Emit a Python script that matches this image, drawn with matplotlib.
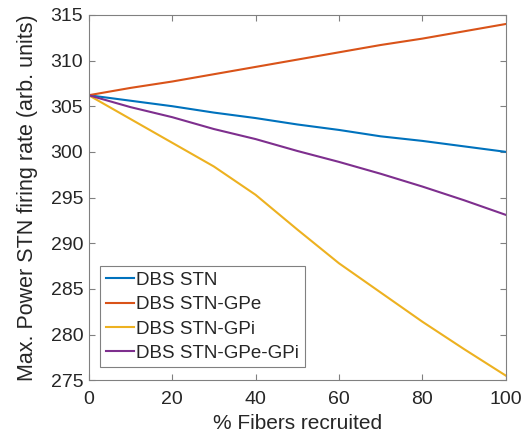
import matplotlib.pyplot as plt
import numpy as np

plt.rcParams['font.family'] = ['Liberation Sans', 'DejaVu Sans']

# % fibers recruited
fibers = [0, 10, 20, 30, 40, 50, 60, 70, 80, 90, 100]

dbs_stn = [306.2, 305.6, 305.0, 304.3, 303.7, 303.0, 302.4, 301.7, 301.2, 300.6, 300.0]
dbs_stn_gpe = [306.2, 307.0, 307.7, 308.5, 309.3, 310.1, 310.9, 311.7, 312.4, 313.2, 314.0]
dbs_stn_gpi = [306.2, 303.6, 301.0, 298.4, 295.3, 291.5, 287.8, 284.6, 281.4, 278.4, 275.5]
dbs_stn_gpe_gpi = [306.2, 304.9, 303.8, 302.5, 301.4, 300.1, 298.9, 297.6, 296.2, 294.7, 293.1]

labels = ['DBS STN', 'DBS STN-GPe', 'DBS STN-GPi', 'DBS STN-GPe-GPi']
colors = ['#0072BD', '#D95319', '#EDB120', '#7E2F8E']

fig = plt.figure(figsize=(5.28, 4.37), dpi=100)
ax = fig.add_axes([0.168, 0.130, 0.790, 0.836])

for ys, lab, col in zip([dbs_stn, dbs_stn_gpe, dbs_stn_gpi, dbs_stn_gpe_gpi], labels, colors):
    ax.plot(fibers, ys, color=col, lw=1.5, label=lab)

ax.set_xlim(0, 100)
ax.set_ylim(275, 315)
ax.set_xticks(np.arange(0, 101, 20))
ax.set_yticks(np.arange(275, 316, 5))

ax.tick_params(direction='in', top=True, right=True, labelsize=14, colors='#808080',
               labelcolor='#262626', length=4)
ax.tick_params(axis='x', pad=8)
ax.tick_params(axis='y', pad=4)
for s in ax.spines.values():
    s.set_color('#808080')

ax.set_xlabel('% Fibers recruited', fontsize=15, color='#262626', labelpad=4)
ax.set_ylabel('Max. Power STN firing rate (arb. units)', fontsize=15.5, color='#262626', labelpad=9)

leg = ax.legend(loc='lower left', bbox_to_anchor=(0.028, 0.035), fontsize=13.5,
                handlelength=1.5, handletextpad=0.1, labelspacing=0.38,
                borderaxespad=0, borderpad=0.3, fancybox=False, framealpha=1)
leg.get_frame().set_edgecolor('#808080')
leg.get_frame().set_linewidth(0.8)
for t in leg.get_texts():
    t.set_color('#262626')

fig.savefig('out.png', dpi=100)
